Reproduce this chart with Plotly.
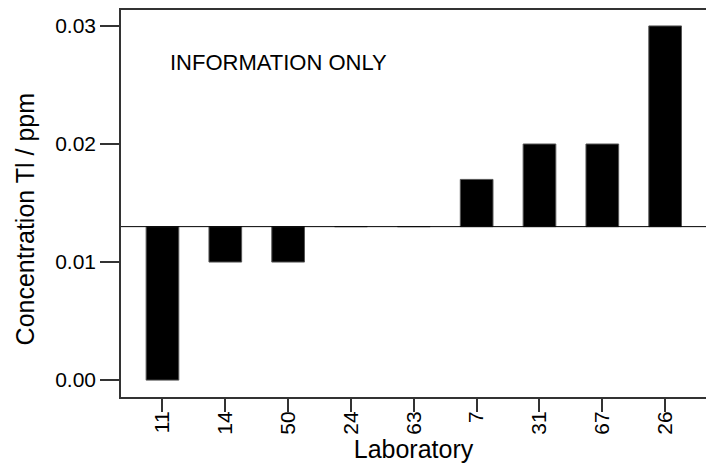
import plotly.graph_objects as go

labs = ["11", "14", "50", "24", "63", "7", "31", "67", "26"]
conc = [0.000, 0.010, 0.010, 0.013, 0.013, 0.017, 0.020, 0.020, 0.030]
ref_value = 0.013
y_ticks = [0.00, 0.01, 0.02, 0.03]
y_ticktext = ["0.00", "0.01", "0.02", "0.03"]

FONT = "Liberation Sans, Arial, sans-serif"
X_RANGE = [-0.66, 8.65]

fig = go.Figure()
fig.add_trace(go.Bar(
    x=labs,
    y=[c - ref_value for c in conc],
    base=ref_value,
    width=0.52,
    marker=dict(color="black", line=dict(color="#555555", width=1)),
    showlegend=False,
))
# empty trace so the label axis (x2) gets drawn
fig.add_trace(go.Scatter(x=[], y=[], xaxis="x2", yaxis="y",
                         showlegend=False, hoverinfo="skip"))

# assigned value line
fig.add_shape(type="line", xref="paper", x0=0, x1=1, yref="y",
              y0=ref_value, y1=ref_value, line=dict(color="black", width=1))

fig.add_annotation(text="INFORMATION ONLY", xref="paper", yref="paper",
                   x=0.08, y=0.864, xanchor="left", yanchor="middle",
                   showarrow=False, font=dict(size=22, color="black", family=FONT))

# y title placed as annotation (sits a bit below the plot centre in the original)
fig.add_annotation(text="Concentration Tl / ppm", xref="paper", yref="paper",
                   x=-0.164, y=0.459, xanchor="center", yanchor="middle",
                   textangle=-90, showarrow=False,
                   font=dict(size=25, color="black", family=FONT))

# page body adds 8px offset, so figure is 8px smaller than the window
fig.update_layout(
    width=706, height=456,
    margin=dict(l=113, r=8, t=0, b=67),
    paper_bgcolor="white", plot_bgcolor="white",
    font=dict(family=FONT, color="black"),
    xaxis=dict(
        type="category", range=X_RANGE,
        showticklabels=False,
        ticks="outside", ticklen=13, tickwidth=1.5, tickcolor="#333333",
        showline=True, linecolor="#333333", linewidth=1.5, mirror=True,
        showgrid=False, zeroline=False,
    ),
    # second x axis only carries the labels, closer to the ticks
    xaxis2=dict(
        overlaying="x", side="bottom", anchor="y", range=X_RANGE,
        type="linear",
        tickvals=list(range(len(labs))), ticktext=labs,
        tickangle=-90, tickfont=dict(size=21),
        ticks="outside", ticklen=5, tickcolor="rgba(0,0,0,0)",
        showline=False, showgrid=False, zeroline=False,
        title=dict(text="Laboratory", font=dict(size=25), standoff=6),
    ),
    yaxis=dict(
        range=[-0.00143, 0.03135],
        tickvals=y_ticks, ticktext=y_ticktext, tickfont=dict(size=21),
        ticks="outside", ticklen=19, tickwidth=1.5, tickcolor="#333333",
        showline=True, linecolor="#333333", linewidth=1.5, mirror=True,
        showgrid=False, zeroline=False,
    ),
)

fig.write_html("out.html")
